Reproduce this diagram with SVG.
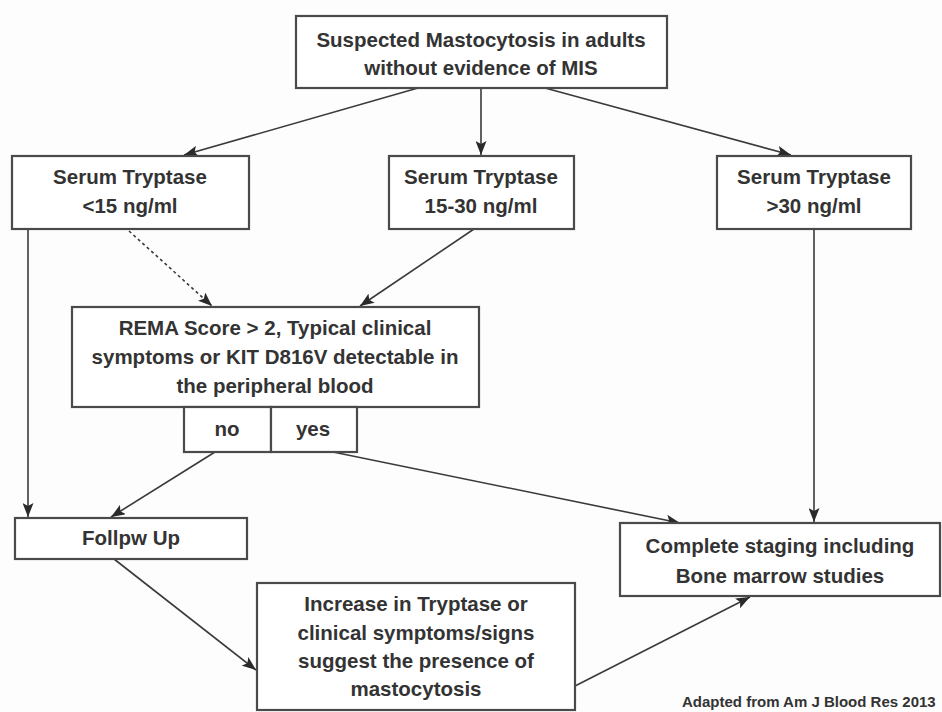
<svg xmlns="http://www.w3.org/2000/svg" width="942" height="712" viewBox="0 0 942 712">
<defs>
<marker id="ah" viewBox="0 0 14 11" refX="14" refY="5.5" markerWidth="14" markerHeight="11" markerUnits="userSpaceOnUse" orient="auto">
<path d="M0,0 L14,5.5 L0,11 L3,5.5 z" fill="#2a2a2a"/>
</marker>
<style>
.box{fill:#fff;stroke:#4a4a4a;stroke-width:2.2}
.t{font-family:"Liberation Sans",Arial,sans-serif;font-weight:bold;font-size:20.5px;fill:#333;text-anchor:middle}
.c{stroke:#3a3a3a;stroke-width:1.6;fill:none;marker-end:url(#ah)}
</style>
</defs>
<rect width="942" height="712" fill="#fdfdfd"/>
<g id="connectors">
<line class="c" x1="418" y1="88" x2="184" y2="155"/>
<line class="c" x1="481" y1="88" x2="481" y2="155"/>
<line class="c" x1="545" y1="88" x2="791" y2="155"/>
<line class="c" x1="28" y1="229" x2="28" y2="517"/>
<line class="c" x1="129" y1="231" x2="212" y2="306" stroke-dasharray="3,3"/>
<line class="c" x1="474" y1="229" x2="360" y2="306"/>
<line class="c" x1="814" y1="229" x2="814" y2="522"/>
<line class="c" x1="215" y1="452" x2="111" y2="517"/>
<line class="c" x1="333" y1="452" x2="680" y2="523"/>
<line class="c" x1="114" y1="559" x2="256" y2="670"/>
<line class="c" x1="575" y1="686" x2="750" y2="597"/>
</g>
<g id="n-top">
<rect class="box" x="296" y="16" width="371" height="72"/>
<text class="t" x="481" y="47">Suspected Mastocytosis in adults</text>
<text class="t" x="481" y="75">without evidence of MIS</text>
</g>
<g id="n-low">
<rect class="box" x="12" y="156" width="237" height="73"/>
<text class="t" x="130" y="184">Serum Tryptase</text>
<text class="t" x="130" y="213">&lt;15 ng/ml</text>
</g>
<g id="n-mid">
<rect class="box" x="389" y="156" width="185" height="73"/>
<text class="t" x="481" y="184">Serum Tryptase</text>
<text class="t" x="481" y="213">15-30 ng/ml</text>
</g>
<g id="n-high">
<rect class="box" x="717" y="156" width="194" height="73"/>
<text class="t" x="814" y="184">Serum Tryptase</text>
<text class="t" x="814" y="213">&gt;30 ng/ml</text>
</g>
<g id="n-rema">
<rect class="box" x="72" y="307" width="407" height="100"/>
<text class="t" x="275" y="335">REMA Score &gt; 2, Typical clinical</text>
<text class="t" x="275" y="364">symptoms or KIT D816V detectable in</text>
<text class="t" x="275" y="393">the peripheral blood</text>
</g>
<g id="n-no">
<rect class="box" x="184" y="407" width="87" height="45"/>
<text class="t" x="227" y="436">no</text>
</g>
<g id="n-yes">
<rect class="box" x="271" y="407" width="86" height="45"/>
<text class="t" x="313" y="436">yes</text>
</g>
<g id="n-follow">
<rect class="box" x="15" y="518" width="232" height="41"/>
<text class="t" x="131" y="545">Follpw Up</text>
</g>
<g id="n-staging">
<rect class="box" x="620" y="523" width="320" height="73"/>
<text class="t" x="780" y="553">Complete staging including</text>
<text class="t" x="780" y="583">Bone marrow studies</text>
</g>
<g id="n-increase">
<rect class="box" x="257" y="583" width="318" height="127"/>
<text class="t" x="416" y="611">Increase in Tryptase or</text>
<text class="t" x="416" y="640">clinical symptoms/signs</text>
<text class="t" x="416" y="668">suggest the presence of</text>
<text class="t" x="416" y="696">mastocytosis</text>
</g>
<text x="682" y="707" style="font-family:'Liberation Sans',Arial,sans-serif;font-weight:bold;font-size:15px;fill:#333">Adapted from Am J Blood Res 2013</text>
</svg>
